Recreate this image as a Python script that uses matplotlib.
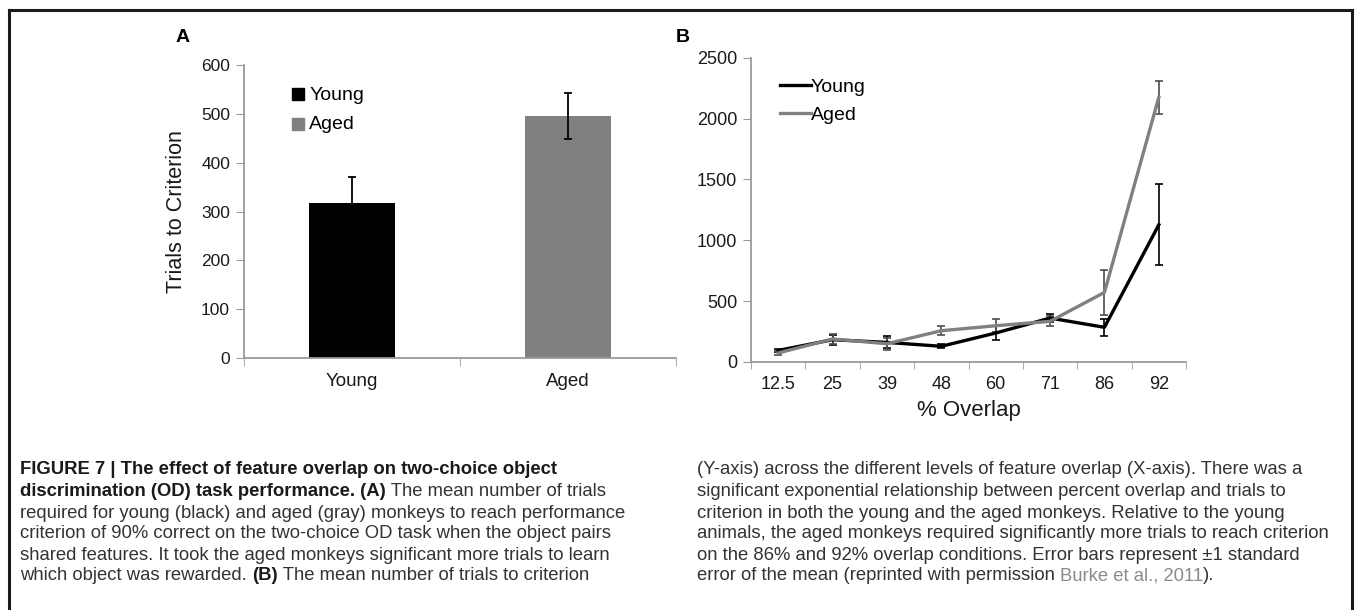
import matplotlib
matplotlib.use('Agg')
import matplotlib.pyplot as plt
from matplotlib import font_manager
import numpy as np

# panel A data
groups = ['Young', 'Aged']
trials_mean = [317, 496]
trials_err = [54, 47]

# panel B data
overlap = ['12.5', '25', '39', '48', '60', '71', '86', '92']
young_mean = [95, 183, 161, 129, 238, 361, 285, 1127]
young_err = [15, 40, 50, 15, 55, 35, 68, 332]
aged_mean = [74, 189, 150, 257, 298, 334, 572, 2175]
aged_err = [15, 45, 50, 38, 55, 40, 185, 137]

names = [f.name for f in font_manager.fontManager.ttflist]
cap_font = 'Liberation Sans Narrow' if 'Liberation Sans Narrow' in names else 'Liberation Sans'
plot_font = 'Liberation Sans'

axis_gray = '#9a9a9a'
txt = '#1a1a1a'

fig = plt.figure(figsize=(13.55, 6.1), dpi=100)

# frame around the figure (left, top, right)
fig.add_artist(plt.Line2D([9/1355, 9/1355], [0, 1 - 10/610], color='#1a1a1a', lw=2.2))
fig.add_artist(plt.Line2D([9/1355, 1352/1355], [1 - 10/610, 1 - 10/610], color='#1a1a1a', lw=2.2))
fig.add_artist(plt.Line2D([1352/1355, 1352/1355], [0, 1 - 10/610], color='#1a1a1a', lw=2.2))

# ---- panel A
axA = fig.add_axes([244/1355, 1 - 358/610, 432/1355, 293/610])
xa = np.arange(len(groups))
axA.bar(xa, trials_mean, width=0.4, color=['black', '#808080'],
        yerr=trials_err, error_kw=dict(ecolor='black', elinewidth=1.3, capsize=3, capthick=1.3))
axA.set_xlim(-0.5, 1.5)
axA.set_ylim(0, 600)
axA.set_yticks(range(0, 601, 100))
axA.set_xticks(xa)
axA.set_xticklabels(groups)
axA.set_xticks([-0.5, 0.5, 1.5], minor=True)
axA.tick_params(axis='x', which='major', length=0, pad=11)
axA.tick_params(axis='x', which='minor', length=6, color=axis_gray, direction='out')
axA.tick_params(axis='y', length=6, color=axis_gray, pad=4)
for lab in axA.get_yticklabels():
    lab.set_fontfamily(plot_font)
    lab.set_fontsize(12.5)
    lab.set_color(txt)
for lab in axA.get_xticklabels():
    lab.set_fontfamily(plot_font)
    lab.set_fontsize(13.5)
    lab.set_color(txt)
axA.set_ylabel('Trials to Criterion', fontfamily=plot_font, fontsize=15.5, color=txt, labelpad=10)
for s in ['top', 'right']:
    axA.spines[s].set_visible(False)
for s in ['left', 'bottom']:
    axA.spines[s].set_color(axis_gray)
    axA.spines[s].set_linewidth(1.3)
axA.scatter([], [], marker='s', color='black', s=80, label='Young')
axA.scatter([], [], marker='s', color='#808080', s=80, label='Aged')
axA.legend(loc='upper left', bbox_to_anchor=(0.063, 0.955), frameon=False,
           prop={'family': plot_font, 'size': 14}, handletextpad=-0.45,
           labelspacing=0.6, borderaxespad=0)

# ---- panel B
axB = fig.add_axes([751/1355, 1 - 362/610, 435/1355, 304.3/610])
xb = np.arange(len(overlap))
axB.errorbar(xb, young_mean, yerr=young_err, color='black', lw=2.4,
             ecolor='black', elinewidth=1.2, capsize=3, capthick=1.2, label='Young')
axB.errorbar(xb, aged_mean, yerr=aged_err, color='#808080', lw=2.4,
             ecolor='#4d4d4d', elinewidth=1.2, capsize=3, capthick=1.2, label='Aged')
axB.set_xlim(-0.5, 7.5)
axB.set_ylim(0, 2500)
axB.set_yticks(range(0, 2501, 500))
axB.set_xticks(xb)
axB.set_xticklabels(overlap)
axB.set_xticks(np.arange(-0.5, 8, 1), minor=True)
axB.tick_params(axis='x', which='major', length=0, pad=10)
axB.tick_params(axis='x', which='minor', length=5, color=axis_gray, direction='out')
axB.tick_params(axis='y', length=6, color=axis_gray, pad=4)
for lab in axB.get_xticklabels() + axB.get_yticklabels():
    lab.set_fontfamily(plot_font)
    lab.set_fontsize(13)
    lab.set_color(txt)
axB.set_xlabel('% Overlap', fontfamily=plot_font, fontsize=16, color=txt, labelpad=5)
for s in ['top', 'right']:
    axB.spines[s].set_visible(False)
for s in ['left', 'bottom']:
    axB.spines[s].set_color(axis_gray)
    axB.spines[s].set_linewidth(1.3)
handles, labels = axB.get_legend_handles_labels()
handles = [h[0] for h in handles]
axB.legend(handles, labels, loc='upper left', bbox_to_anchor=(0.048, 0.957), frameon=False,
           prop={'family': plot_font, 'size': 14}, handlelength=1.6, handletextpad=0.0,
           labelspacing=0.5, borderaxespad=0)

# panel letters
fig.text(183/1355, 1 - 38/610, 'A', fontfamily=plot_font, fontweight='bold', fontsize=14,
         ha='center', va='center')
fig.text(683/1355, 1 - 38/610, 'B', fontfamily=plot_font, fontweight='bold', fontsize=14,
         ha='center', va='center')

# ---- caption
cap_size = 13.3
body = '#333333'
left_lines = [
    [('FIGURE 7 | The effect of feature overlap on two-choice object', 'bold', txt)],
    [('discrimination (OD) task performance. (A)', 'bold', txt),
     (' The mean number of trials', 'normal', body)],
    [('required for young (black) and aged (gray) monkeys to reach performance', 'normal', body)],
    [('criterion of 90% correct on the two-choice OD task when the object pairs', 'normal', body)],
    [('shared features. It took the aged monkeys significant more trials to learn', 'normal', body)],
    [('which object was rewarded. ', 'normal', body), ('(B)', 'bold', txt),
     (' The mean number of trials to criterion', 'normal', body)],
]
right_lines = [
    [('(Y-axis) across the different levels of feature overlap (X-axis). There was a', 'normal', body)],
    [('significant exponential relationship between percent overlap and trials to', 'normal', body)],
    [('criterion in both the young and the aged monkeys. Relative to the young', 'normal', body)],
    [('animals, the aged monkeys required significantly more trials to reach criterion', 'normal', body)],
    [('on the 86% and 92% overlap conditions. Error bars represent \u00b11 standard', 'normal', body)],
    [('error of the mean (reprinted with permission ', 'normal', body),
     ('Burke et al., 2011', 'normal', '#8a8a8a'), (').', 'normal', body)],
]
line_y = [470, 491, 513, 534, 555, 576]


def write_chain(lines, x0):
    for pieces, yy in zip(lines, line_y):
        prev = None
        for s, w, c in pieces:
            if prev is None:
                prev = fig.text(x0/1355, 1 - yy/610, s, fontfamily=cap_font, fontweight=w,
                                fontsize=cap_size, color=c, va='center', ha='left')
            else:
                prev = fig.add_artist(matplotlib.text.Annotation(
                    s, xy=(1, 0), xycoords=prev, va='bottom', ha='left',
                    fontfamily=cap_font, fontweight=w, fontsize=cap_size, color=c))


write_chain(left_lines, 20)
write_chain(right_lines, 697)

fig.savefig('out.png', dpi=100)
